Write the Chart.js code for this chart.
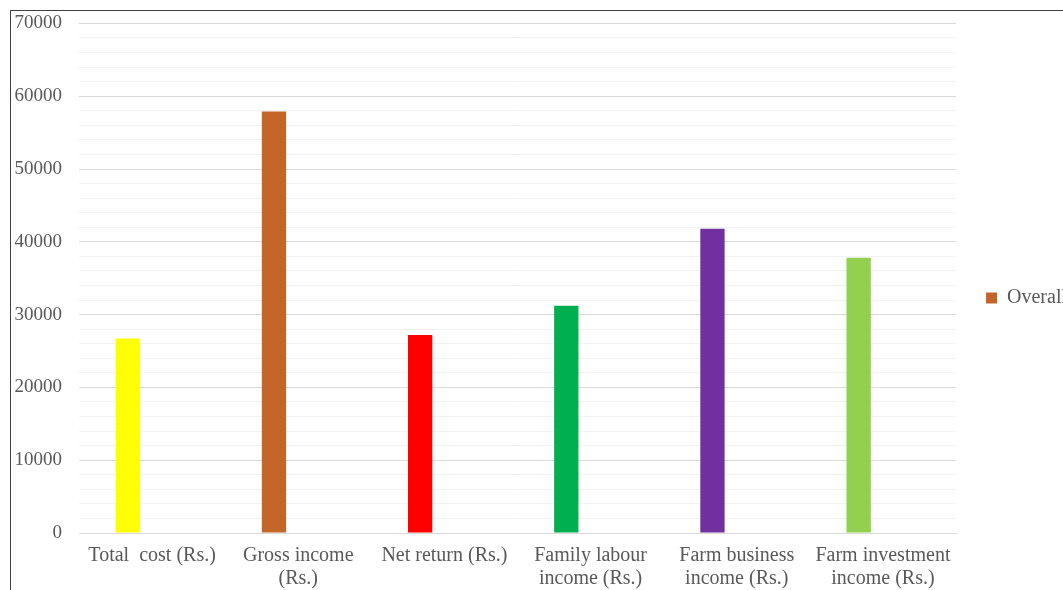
<!DOCTYPE html>
<html>
<head>
<meta charset="utf-8">
<script src="https://cdn.jsdelivr.net/npm/chart.js@4.4.0/dist/chart.umd.min.js"></script>
<style>
  html, body { margin: 0; padding: 0; background: #fff; overflow: hidden; }
  #frame {
    position: absolute; left: 10px; top: 10px;
    width: 1100px; height: 600px; overflow: hidden;
    border-left: 1px solid #404040; border-top: 1px solid #404040;
  }
  #wrap { position: absolute; left: 0; top: -16px; width: 1066px; height: 606px; }
</style>
</head>
<body>
<div id="frame"><div id="wrap"><canvas id="incomeChart"></canvas></div></div>
<script>
// values
const categories = [
    'Total  cost (Rs.)',
    ['Gross income', '(Rs.)'],
    'Net return (Rs.)',
    ['Family labour', 'income (Rs.)'],
    ['Farm business', 'income (Rs.)'],
    ['Farm investment', 'income (Rs.)']
];
const overallValues = [26700, 57900, 27200, 31200, 41800, 37800];
const barColors = ['#FFFF00', '#C4652A', '#FF0000', '#00B050', '#7030A0', '#92D050'];
const legendColor = '#C4652A';
const yMax = 70000;

const serif = '"Liberation Serif", "Times New Roman", serif';
const xFont = { family: serif, size: 20, lineHeight: 1.15 };
const yFont = { family: serif, size: 19 };

const ctx = document.getElementById('incomeChart').getContext('2d');
new Chart(ctx, {
    type: 'bar',
    data: {
        labels: categories,
        datasets: [{
            label: 'Overall',
            data: overallValues,
            backgroundColor: barColors,
            borderWidth: 0
        }, {
            label: '',
            data: [],
            backgroundColor: 'rgba(0,0,0,0)'
        }]
    },
    options: {
        responsive: true,
        maintainAspectRatio: false,
        animation: false,
        categoryPercentage: 0.665,
        barPercentage: 0.5,
        layout: { padding: 0 },
        plugins: {
            tooltip: { enabled: false },
            legend: {
                position: 'right',
                labels: {
                    font: { family: serif, size: 20 },
                    color: '#595959',
                    boxWidth: 11,
                    boxHeight: 11,
                    padding: 30,
                    generateLabels: chart => [{
                        text: 'Overall',
                        fillStyle: legendColor,
                        strokeStyle: legendColor,
                        fontColor: '#595959',
                        lineWidth: 0,
                        datasetIndex: 0
                    }]
                }
            }
        },
        scales: {
            x: {
                grid: { display: false, drawTicks: false },
                border: { display: true, color: '#d9d9d9' },
                ticks: { font: xFont, color: '#595959', maxRotation: 0, autoSkip: false, padding: 11 }
            },
            y: {
                min: 0,
                max: yMax,
                border: { display: false },
                afterFit: scale => { scale.width = 68; },
                grid: {
                    drawTicks: false,
                    color: c => (c.tick && c.tick.value % 10000 === 0) ? '#d9d9d9' : '#f2f2f2'
                },
                ticks: {
                    stepSize: 2000,
                    autoSkip: false,
                    font: yFont,
                    color: '#595959',
                    padding: 17,
                    callback: v => v % 10000 === 0 ? v : ''
                }
            }
        }
    }
});
</script>
</body>
</html>
